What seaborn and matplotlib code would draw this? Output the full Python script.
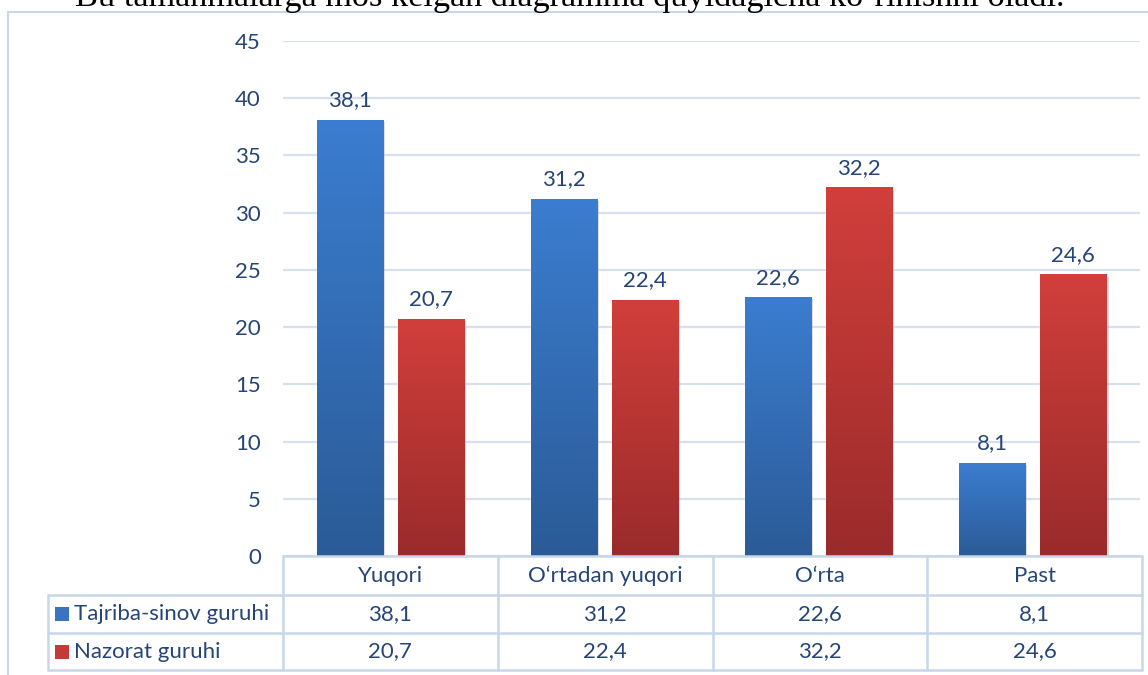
import numpy as np
import pandas as pd
import matplotlib
matplotlib.use("Agg")
import matplotlib.pyplot as plt
import seaborn as sns
from matplotlib.colors import LinearSegmentedColormap
from matplotlib.lines import Line2D
from matplotlib.patches import Rectangle
from matplotlib import patheffects

# --- data ---
categories = ["Yuqori", "O\u2018rtadan yuqori", "O\u2018rta", "Past"]
series = ["Tajriba-sinov guruhi", "Nazorat guruhi"]
tajriba = [38.1, 31.2, 22.6, 8.1]
nazorat = [20.7, 22.4, 32.2, 24.6]
yticks = list(range(0, 50, 5))
caption = "Bu tamanmalarga mos kelgan diagramma quyidagicha ko\u2018rinishni oladi."

NAVY = "#264478"
GRID = "#d6e0ef"
LINE = "#c8d7ea"
grads = [("#2b5b97", "#3b7dd0"), ("#9a2b2b", "#d13f3b")]
solid = ["#3a73bf", "#c43a37"]
FS = 16

W, H = 1148, 675


def px(x, y):
    return x / W, 1 - y / H


def fmt(v):
    return f"{v:.1f}".replace(".", ",")


df = pd.DataFrame({
    "cat": categories * 2,
    "group": [series[0]] * len(categories) + [series[1]] * len(categories),
    "val": tajriba + nazorat,
})

sns.set_theme(style="white")
plt.rcParams["font.family"] = ["Lato", "DejaVu Sans"]

fig = plt.figure(figsize=(W / 100, H / 100), dpi=100)
left, right, top, bottom = 283, 1140, 41, 556
ax = fig.add_axes([left / W, 1 - bottom / H, (right - left) / W, (bottom - top) / H])

sns.barplot(data=df, x="cat", y="val", hue="group", palette=solid,
            width=0.757, gap=0.185, saturation=1, legend=False, ax=ax)

# gradient fill + soft shadow on each bar
grad = np.linspace(0, 1, 256).reshape(-1, 1)
for cont, (c_bot, c_top) in zip(ax.containers, grads):
    cmap = LinearSegmentedColormap.from_list("g", [c_bot, c_top])
    for bar in cont:
        bar.set_path_effects([patheffects.SimplePatchShadow(offset=(1.5, -1.5), shadow_rgbFace="#888888", alpha=0.35),
                              patheffects.Normal()])
        x0, y0, w, h = bar.get_x(), bar.get_y(), bar.get_width(), bar.get_height()
        im = ax.imshow(grad, extent=[x0, x0 + w, y0, y0 + h], origin="lower",
                       aspect="auto", cmap=cmap, zorder=bar.get_zorder() + 0.1)
        im.set_clip_path(bar)
    ax.bar_label(cont, labels=[fmt(v) for v in cont.datavalues], padding=7,
                 fontsize=FS, color=NAVY)

ax.set_xlim(-0.5, len(categories) - 0.5)
ax.set_ylim(0, 45)
ax.set_yticks(yticks)
ax.yaxis.grid(True, color=GRID, linewidth=1.6)
ax.set_axisbelow(True)
sns.despine(ax=ax, left=True, bottom=True, top=True, right=True)
ax.set_xlabel("")
ax.set_ylabel("")
ax.tick_params(axis="x", length=0, labelbottom=False)
ax.tick_params(axis="y", length=0, pad=16, labelsize=FS, labelcolor=NAVY)

# --- data table below the plot ---
cols = np.linspace(left, right + 2, len(categories) + 1)
row_y = [556, 595, 633, 670]
lab_left = 48


def hline(x1, x2, y):
    fig.add_artist(Line2D([x1 / W, x2 / W], [1 - y / H] * 2, color=LINE, lw=1.8,
                          transform=fig.transFigure))


def vline(x, y1, y2):
    fig.add_artist(Line2D([x / W] * 2, [1 - y1 / H, 1 - y2 / H], color=LINE, lw=1.8,
                          transform=fig.transFigure))


hline(left, cols[-1], row_y[0])
for y in row_y[1:]:
    hline(lab_left, cols[-1], y)
for x in cols:
    vline(x, row_y[0], row_y[-1])
vline(lab_left, row_y[1], row_y[-1])

centers = (cols[:-1] + cols[1:]) / 2
for cx, name in zip(centers, categories):
    fig.text(*px(cx, (row_y[0] + row_y[1]) / 2), name, ha="center", va="center",
             fontsize=FS, color=NAVY)

for i, (name, vals) in enumerate(zip(series, [tajriba, nazorat])):
    cy = (row_y[i + 1] + row_y[i + 2]) / 2
    fig.add_artist(Rectangle(px(55, cy + 7), 14 / W, 14 / H, transform=fig.transFigure,
                             facecolor=solid[i], edgecolor="none"))
    fig.text(*px(74, cy), name, ha="left", va="center", fontsize=FS, color=NAVY)
    for cx, v in zip(centers, vals):
        fig.text(*px(cx, cy), fmt(v), ha="center", va="center", fontsize=FS, color=NAVY)

# chart frame and cut-off caption line above it (cut off in the source too)
fig.add_artist(Rectangle(px(8, 700), 1200 / W, 688 / H, transform=fig.transFigure,
                         facecolor="none", edgecolor=LINE, lw=1.5, clip_on=False))
fig.text(*px(75, 6), caption, ha="left", va="baseline", fontsize=24.7,
         family="Liberation Serif", color="black")

fig.savefig("out.png", dpi=100)
